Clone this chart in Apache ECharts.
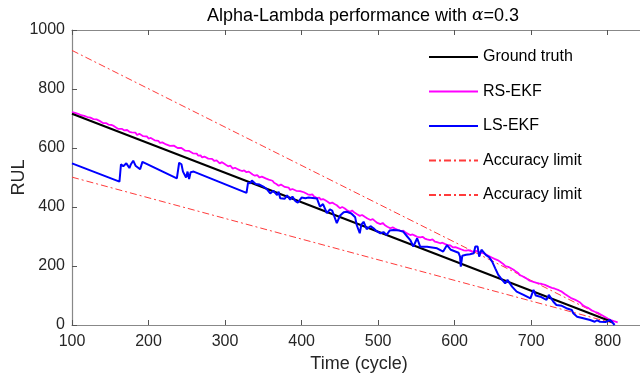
<!DOCTYPE html>
<html>
<head>
<meta charset="utf-8">
<script src="https://cdn.jsdelivr.net/npm/echarts@6/dist/echarts.min.js"></script>
<style>html,body{margin:0;padding:0;background:#fff}#c{width:640px;height:377px}</style>
</head>
<body>
<div id="c"></div>
<script>
// Ground truth and accuracy limits (cycle, RUL)
var gtT = [100, 806];
var gtR = [716, 10];
var upR = [930.8, 13];
var loR = [501.2, 7];

// RS-EKF
var rsT = [100,102,104,106,108,110,112,114,116,118,120,122,124,126,128,130,132,134,136,138,141,143,145,148,150,152,155,157,160,162,165,168,170,172,175,178,180,183,185,188,190,193,195,198,200,203,205,208,210,213,215,218,220,223,225,228,230,233,235,238,240,243,245,248,250,253,255,258,260,263,265,268,270,273,275,278,280,283,286,289,293,296,298,301,304,307,310,313,316,319,322,325,328,331,333,336,339,342,345,348,350,353,355,357,359,362,364,367,370,373,375,378,380,383,385,388,390,393,395,398,400,403,405,408,411,414,416,418,420,423,425,428,431,434,437,440,443,446,450,453,456,459,463,466,469,472,476,479,483,486,490,493,496,499,503,506,509,512,516,519,522,526,530,533,536,539,542,545,548,551,555,558,561,564,568,571,574,577,581,584,587,590,594,596,598,601,603,606,609,612,615,618,620,623,625,628,630,633,635,638,640,643,646,649,652,656,659,663,666,670,673,677,680,683,685,688,690,693,695,698,700,704,707,710,712,714,716,718,720,723,725,727,729,731,733,736,738,740,742,744,746,748,750,753,755,757,760,762,764,766,768,771,773,775,777,779,781,783,785,788,790,792,794,796,798,800,802,804,806,808,810,813];
var rsR = [722,724,719,720,716,717,711,713,709,707,705,707,703,700,698,699,697,694,692,690,684,688,684,679,676,678,674,670,665,667,665,660,659,661,655,653,650,652,644,648,644,640,637,639,632,634,630,626,622,624,617,619,615,612,611,607,606,608,604,600,598,600,595,591,588,590,587,582,580,581,574,575,568,571,568,564,561,563,556,558,548,552,547,543,538,540,530,533,529,525,522,524,518,520,514,510,506,508,500,503,500,497,491,493,487,489,482,478,472,476,470,468,464,466,458,461,458,455,452,454,448,450,446,443,441,443,436,438,430,432,425,427,423,418,412,415,410,406,396,400,396,390,384,388,381,376,370,373,366,361,356,359,352,346,342,346,338,333,328,331,327,322,318,320,313,309,305,307,303,299,297,299,293,290,288,290,283,281,277,279,275,272,270,268,263,264,258,259,256,253,252,254,251,249,249,251,249,246,245,243,240,236,232,228,224,220,215,208,200,197,193,187,181,176,169,166,162,159,155,150,148,145,143,141,140,139,138,136,134,130,128,126,125,123,121,118,114,113,110,105,102,98,95,90,88,86,82,78,76,71,66,62,60,57,54,50,48,45,42,40,37,34,31,28,25,22,19,17,15,13,11,9,7,6,4,3,0];

// LS-EKF
var lsT = [100,162,164,167,169,171,173,175,177,180,183,189,191,192,237,240,243,245,247,249,251,253,255,259,328,330,333,335,340,345,350,354,359,363,368,370,372,378,381,385,388,392,395,400,405,409,420,424,428,433,437,440,446,450,455,459,465,470,472,476,478,481,485,490,494,498,503,507,511,515,520,528,533,538,542,546,551,555,564,577,585,590,595,600,605,607,608,610,615,620,625,627,630,632,635,641,645,649,653,657,662,666,669,675,681,690,699,703,706,712,720,723,729,733,740,746,753,755,760,768,777,783,786,790,797,803,807,809];
var lsR = [548,486,545,538,535,548,544,532,545,557,540,528,523,553,497,550,545,520,522,500,520,495,518,520,448,482,480,490,478,476,469,462,446,455,440,452,430,428,440,425,435,420,415,432,430,432,429,401,410,379,392,388,345,370,382,384,378,365,339,311,340,350,325,335,328,318,311,315,305,320,322,320,316,300,288,266,294,265,265,260,249,271,255,250,245,232,198,235,238,240,243,266,266,232,255,237,230,215,192,170,153,141,153,130,113,102,90,119,100,96,85,102,79,68,65,57,51,40,28,23,17,11,16,11,10,17,6,0];

var xTicks = [100,200,300,400,500,600,700,800];
var yTicks = [0,200,400,600,800,1000];

function pairs(t, r){ return t.map(function(v,i){ return [v, r[i]]; }); }

var font = 'Liberation Sans, Arial, Helvetica, sans-serif';
var dashDot = [7,3,2,3];
var legendBase = {
  orient: 'vertical', left: 423, itemWidth: 49, itemHeight: 14, itemGap: 18.5,
  itemStyle: {opacity: 0},
  textStyle: {fontFamily: font, fontSize: 16, color: '#000'}, selectedMode: false
};
var chart = echarts.init(document.getElementById('c'), null, {renderer:'canvas'});
chart.setOption({
  animation: false,
  backgroundColor: '#fff',
  title: {
    text: 'Alpha-Lambda performance with {a|α}=0.3',
    left: 358, top: 2, textAlign: 'center',
    textStyle: {fontFamily: font, fontSize: 18, fontWeight: 'normal', color: '#000',
      rich: {a: {fontFamily: 'DejaVu Serif, serif', fontStyle: 'italic', fontSize: 17, color:'#000'}}}
  },
  grid: {left: 72, top: 30, width: 574, height: 295, containLabel: false, outerBoundsMode: 'none'},
  legend: [
    Object.assign({}, legendBase, {data: ['Ground truth','RS-EKF','LS-EKF','Accuracy limit'], top: 44}),
    Object.assign({}, legendBase, {data: ['Accuracy limit'], top: 182})
  ],
  xAxis: [{
    type: 'value', min: 100, max: 850, interval: 100,
    name: 'Time (cycle)', nameLocation: 'middle', nameGap: 30,
    nameTextStyle: {fontFamily: font, fontSize: 18, color: '#262626'},
    axisLine: {lineStyle: {color: '#888', width: 1.2}},
    axisTick: {inside: true, length: 5, lineStyle: {color: '#555'}},
    axisLabel: {fontFamily: font, fontSize: 16, color: '#262626', margin: 9,
      formatter: function(v){ return xTicks.indexOf(v) >= 0 ? String(v) : ''; }},
    splitLine: {show: false}
  },{
    type: 'value', min: 100, max: 850, interval: 100, position: 'top',
    axisLine: {lineStyle: {color: '#888', width: 1.2}},
    axisTick: {inside: true, length: 5, lineStyle: {color: '#555'}},
    axisLabel: {show: false}, splitLine: {show: false}
  }],
  yAxis: {
    type: 'value', min: 0, max: 1000, interval: 200,
    name: 'RUL', nameLocation: 'middle', nameGap: 44, nameMoveOverlap: false,
    nameTextStyle: {fontFamily: font, fontSize: 18, color: '#262626'},
    axisLine: {show: true, lineStyle: {color: '#888', width: 1.2}},
    axisTick: {show: true, inside: true, length: 5, lineStyle: {color: '#555'}},
    axisLabel: {fontFamily: font, fontSize: 16, color: '#262626', margin: 7,
      formatter: function(v){ return yTicks.indexOf(v) >= 0 ? String(v) : ''; }},
    splitLine: {show: false}
  },
  series: [
    {name: 'Accuracy limit', type: 'line', data: pairs(gtT, upR), symbol: 'none',
     lineStyle: {color: '#ff3b3b', width: 1, type: dashDot}, itemStyle:{color:'#ff3b3b'}, z: 1},
    {name: 'Accuracy limit', type: 'line', data: pairs(gtT, loR), symbol: 'none',
     lineStyle: {color: '#ff3b3b', width: 1, type: dashDot}, itemStyle:{color:'#ff3b3b'}, z: 1},
    {name: 'Ground truth', type: 'line', data: pairs(gtT, gtR), symbol: 'none',
     lineStyle: {color: '#000', width: 2}, itemStyle:{color:'#000'}, z: 3},
    {name: 'RS-EKF', type: 'line', data: pairs(rsT, rsR), symbol: 'none',
     lineStyle: {color: '#ff00ff', width: 1.8}, itemStyle:{color:'#ff00ff'}, z: 2},
    {name: 'LS-EKF', type: 'line', data: pairs(lsT, lsR), symbol: 'none',
     lineStyle: {color: '#0000ff', width: 2}, itemStyle:{color:'#0000ff'}, z: 4}
  ]
});
</script>
</body>
</html>
